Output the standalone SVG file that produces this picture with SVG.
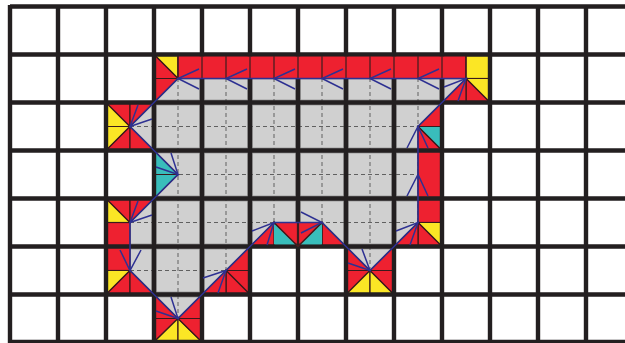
<svg xmlns="http://www.w3.org/2000/svg" width="625" height="343" viewBox="0 0 625 343">
<style>
.r{fill:#ee2130}.y{fill:#fbe625}.t{fill:#39bdbb}
.r,.y,.t{stroke:#3a1a1c;stroke-width:1.2;stroke-linejoin:miter}
.grid{fill:none;stroke:#231f20;stroke-width:4.4}
.halo{fill:none;stroke:#a0a0a0;stroke-width:5.8}
.dash{fill:none;stroke:#606060;stroke-width:1;stroke-dasharray:4 3}
.thin{fill:none;stroke:#4a1e20;stroke-width:1.3}
.blue{fill:none;stroke:#2e3192;stroke-width:1.5}
</style>
<defs>
<path id="g" d="M10 6.5H625M10 54.5H625M10 102.5H625M10 150.5H625M10 198.5H625M10 246.5H625M10 294.5H625M10 342H625M10 5V343M58 5V343M106 5V343M154 5V343M202 5V343M250 5V343M298 5V343M346 5V343M394 5V343M442 5V343M490 5V343M538 5V343M586 5V343"/>
<clipPath id="c"><polygon points="178,78.5 466,78.5 418,126.5 418,222.5 370,270.5 322,222.5 274,222.5 178,318.5 130,270.5 130,222.5 178,174.5 130,126.5"/></clipPath>
</defs>
<rect width="625" height="343" fill="#fff"/>
<polygon points="178,78.5 466,78.5 418,126.5 418,222.5 370,270.5 322,222.5 274,222.5 178,318.5 130,270.5 130,222.5 178,174.5 130,126.5" fill="#d0d0d0"/>
<g clip-path="url(#c)">
<use href="#g" class="halo"/>
<path class="dash" d="M178 78V320M226 78V320M274 78V320M322 78V320M370 78V320M418 78V320M130 126.5H420M130 174.5H420M130 222.5H420M130 270.5H420"/>
</g>
<g id="colored">
<polygon class="y" points="154,54.5 178,54.5 178,78.5"/>
<polygon class="r" points="154,54.5 154,78.5 178,78.5"/>
<polygon class="r" points="154,78.5 178,78.5 154,102.5"/>
<rect class="r" x="178" y="54.5" width="288" height="24"/>
<rect class="y" x="466" y="54.5" width="24" height="24"/>
<polygon class="y" points="466,78.5 490,78.5 490,102.5"/>
<polygon class="r" points="466,78.5 466,102.5 490,102.5"/>
<polygon class="r" points="466,78.5 442,102.5 466,102.5"/>
<polygon class="r" points="442,102.5 418,126.5 442,126.5"/>
<polygon class="t" points="418,126.5 442,126.5 442,150.5"/>
<polygon class="r" points="418,126.5 418,150.5 442,150.5"/>
<rect class="r" x="418" y="150.5" width="24" height="72"/>
<polygon class="y" points="418,222.5 442,222.5 442,246.5"/>
<polygon class="r" points="418,222.5 418,246.5 442,246.5"/>
<polygon class="r" points="418,222.5 394,246.5 418,246.5"/>
<polygon class="r" points="346,246.5 346,270.5 370,270.5"/>
<polygon class="r" points="394,246.5 394,270.5 370,270.5"/>
<polygon class="r" points="346,270.5 370,270.5 346,294.5"/>
<polygon class="y" points="370,270.5 370,294.5 346,294.5"/>
<polygon class="y" points="370,270.5 370,294.5 394,294.5"/>
<polygon class="r" points="370,270.5 394,270.5 394,294.5"/>
<polygon class="r" points="322,222.5 346,246.5 322,246.5"/>
<polygon class="r" points="298,222.5 322,222.5 298,246.5"/>
<polygon class="t" points="322,222.5 322,246.5 298,246.5"/>
<polygon class="t" points="274,222.5 274,246.5 298,246.5"/>
<polygon class="r" points="274,222.5 298,222.5 298,246.5"/>
<polygon class="r" points="274,222.5 250,246.5 274,246.5"/>
<polygon class="r" points="250,246.5 226,270.5 250,270.5"/>
<polygon class="r" points="226,270.5 250,270.5 250,294.5"/>
<polygon class="r" points="226,270.5 250,294.5 226,294.5"/>
<polygon class="r" points="226,270.5 226,294.5 202,294.5"/>
<polygon class="r" points="154,294.5 154,318.5 178,318.5"/>
<polygon class="r" points="202,294.5 202,318.5 178,318.5"/>
<polygon class="r" points="154,318.5 178,318.5 154,342"/>
<polygon class="y" points="178,318.5 178,342 154,342"/>
<polygon class="y" points="178,318.5 178,342 202,342"/>
<polygon class="r" points="178,318.5 202,318.5 202,342"/>
<polygon class="y" points="106,198.5 106,222.5 130,222.5"/>
<polygon class="r" points="106,198.5 130,198.5 130,222.5"/>
<polygon class="r" points="154,198.5 130,222.5 130,198.5"/>
<rect class="r" x="106" y="222.5" width="24" height="48"/>
<polygon class="y" points="106,270.5 130,270.5 106,294.5"/>
<polygon class="r" points="130,270.5 130,294.5 106,294.5"/>
<polygon class="r" points="130,270.5 154,294.5 130,294.5"/>
<polygon class="t" points="154,150.5 178,174.5 154,174.5"/>
<polygon class="t" points="154,174.5 178,174.5 154,198.5"/>
<polygon class="y" points="106,102.5 130,126.5 106,126.5"/>
<polygon class="r" points="106,102.5 130,102.5 130,126.5"/>
<polygon class="r" points="154,102.5 130,126.5 130,102.5"/>
<polygon class="y" points="106,126.5 130,126.5 106,150.5"/>
<polygon class="r" points="130,126.5 130,150.5 106,150.5"/>
<polygon class="r" points="130,126.5 154,150.5 130,150.5"/>
</g>
<use href="#g" class="grid"/>
<g id="band">
<rect class="r" x="179" y="56.7" width="286" height="21.8" style="stroke:none"/>
<path class="thin" d="M178 56V78.5M202 56V78.5M226 56V78.5M250 56V78.5M274 56V78.5M298 56V78.5M322 56V78.5M346 56V78.5M370 56V78.5M394 56V78.5M418 56V78.5M442 56V78.5M466 56V78.5"/>
<polygon class="t" points="274,224 274,244.3 295.5,244.3" style="stroke:none"/>
<polygon class="r" points="276,222.5 296.9,222.5 296.9,244" style="stroke:none"/>
<polygon class="r" points="299.1,222.5 320,222.5 299.1,244" style="stroke:none"/>
<polygon class="t" points="322,224 322,244.3 300.5,244.3" style="stroke:none"/>
<path class="thin" d="M298 222.5V244.5M274 222.5L298 246.5M322 222.5L298 246.5"/>
</g>
<g id="connectors" class="blue">
<polygon points="178,78.5 466,78.5 418,126.5 418,222.5 370,270.5 322,222.5 274,222.5 178,318.5 130,270.5 130,222.5 178,174.5 130,126.5"/>
<path d="M199 69L178 78.5L199 89M247 69L226 78.5L247 89M295 69L274 78.5L295 89M343 69L322 78.5L343 89M391 69L370 78.5L391 89M439 69L418 78.5L439 89M444 87L466 78.5L458 101M407 148L418 126.5L428 148M407 196L418 174.5L428 196M396 231L418 222.5L410 245M348 263L370 270.5L362 249M301 212L322 222.5L301 233M252 231L274 222.5L267 245M203 278L226 270.5L218 293M156 311L178 318.5L171 297M120 250L130 270.5L141 250M138 201L130 222.5L152 215M156 167L178 174.5L171 153M138 105L130 126.5L152 119"/>
</g>
</svg>
